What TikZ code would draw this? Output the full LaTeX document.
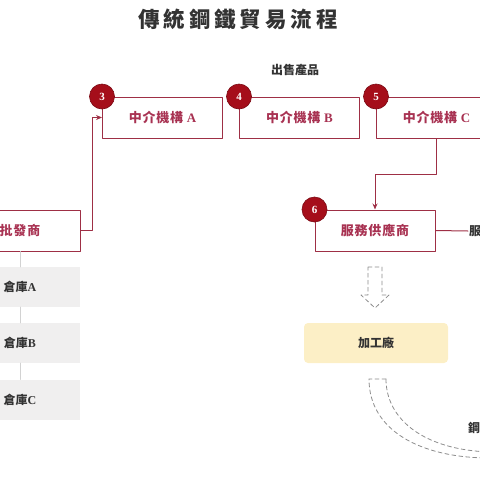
\documentclass[tikz,border=0pt]{standalone}
\usepackage{fontspec}
\setmainfont{Noto Sans CJK TC}
\newfontfamily\titlefont{Noto Sans CJK TC}[LetterSpace=18]
\newfontfamily\boxfont{Noto Sans CJK TC}[LetterSpace=6]
\newfontfamily\latf{Liberation Serif}
\usetikzlibrary{arrows.meta,calc,positioning}
\definecolor{deepred}{HTML}{9E2F45}
\definecolor{boxtext}{HTML}{A83252}
\definecolor{dotred}{HTML}{A50E1A}
\definecolor{storegray}{HTML}{F0EFEF}
\definecolor{plantyel}{HTML}{FCEFC6}
\definecolor{inkgray}{HTML}{333333}
\definecolor{dashgray}{HTML}{8C8C8C}
\tikzset{
 agent/.style={draw=deepred,line width=1pt,minimum width=120pt,minimum height=41pt,text=boxtext,font=\boxfont\bfseries\fontsize{13}{13}\selectfont},
 num/.style={circle,fill=dotred,draw=dotred!75!black,line width=.6pt,minimum size=25pt,inner sep=0pt,text=white,font=\latf\bfseries\fontsize{11}{11}\selectfont},
 store/.style={fill=storegray,minimum width=120pt,minimum height=40pt,text=inkgray,font=\bfseries\fontsize{12}{12}\selectfont},
 flow/.style={deepred,line width=1pt,-{Stealth[length=6pt,width=5pt]}},
 hollow/.style={dashgray,line width=.8pt,dash pattern=on 4pt off 3pt},
}
\begin{document}
\begin{tikzpicture}[x=1pt,y=-1pt,line join=round,line cap=round]
\useasboundingbox (0,0) rectangle (480,480);
\node[font=\titlefont\bfseries\fontsize{21.5}{21.5}\selectfont,text=inkgray] (T) at (238,19) {傳統鋼鐵貿易流程};
\node[font=\bfseries\fontsize{12}{12}\selectfont,text=inkgray] (Q) at (295,70) {出售產品};
\node[agent] (A) at (162.5,117.5) {中介機構 {\latf A}};
\node[agent,right=16pt of A] (B) {中介機構 {\latf B}};
\node[agent,right=16pt of B] (C) {中介機構 {\latf C}};
\node[agent] (W) at (20,230.5) {批發商};
\node[agent] (S) at (375,230.5) {服務供應商};
\foreach \i/\y/\t in {1/287/A,2/343/B,3/399.5/C}{\node[store] (H\i) at (20,\y) {倉庫{\latf\t}};}
\draw[gray!35,line width=1pt] (W) -- (H1) (H1) -- (H2) (H2) -- (H3);
\node[fill=plantyel,rounded corners=4pt,minimum width=144pt,minimum height=40pt,text=inkgray,font=\bfseries\fontsize{12}{12}\selectfont] (P) at (376,343) {加工廠};
\node[anchor=west,inner sep=1pt,text=inkgray,font=\bfseries\fontsize{12}{12}\selectfont] (F) at (468,231) {服};
\node[anchor=west,inner sep=1pt,text=inkgray,font=\bfseries\fontsize{12}{12}\selectfont] (G) at (467,428) {鋼};
\draw[flow] (W.east) -- ++(12,0) |- (A.west);
\draw[flow] (C.south) -- ++(0,36) -| (S.north);
\draw[deepred,line width=1pt] (S.east) -- (F.west);
\foreach \n/\b in {3/A,4/B,5/C,6/S}{\node[num] at (\b.north west) {\n};}
% dashed hollow arrows
\draw[hollow] (368,267) -- (382,267) -- (382,295) -- (389,295) -- (375,308) -- (361,295) -- (368,295) -- cycle;
\draw[hollow] (386,379) -- (369,379) .. controls (369,430) and (420,458) .. (490,458);
\draw[hollow] (386,379) .. controls (386,420) and (425,450) .. (490,452);
\end{tikzpicture}
\end{document}
